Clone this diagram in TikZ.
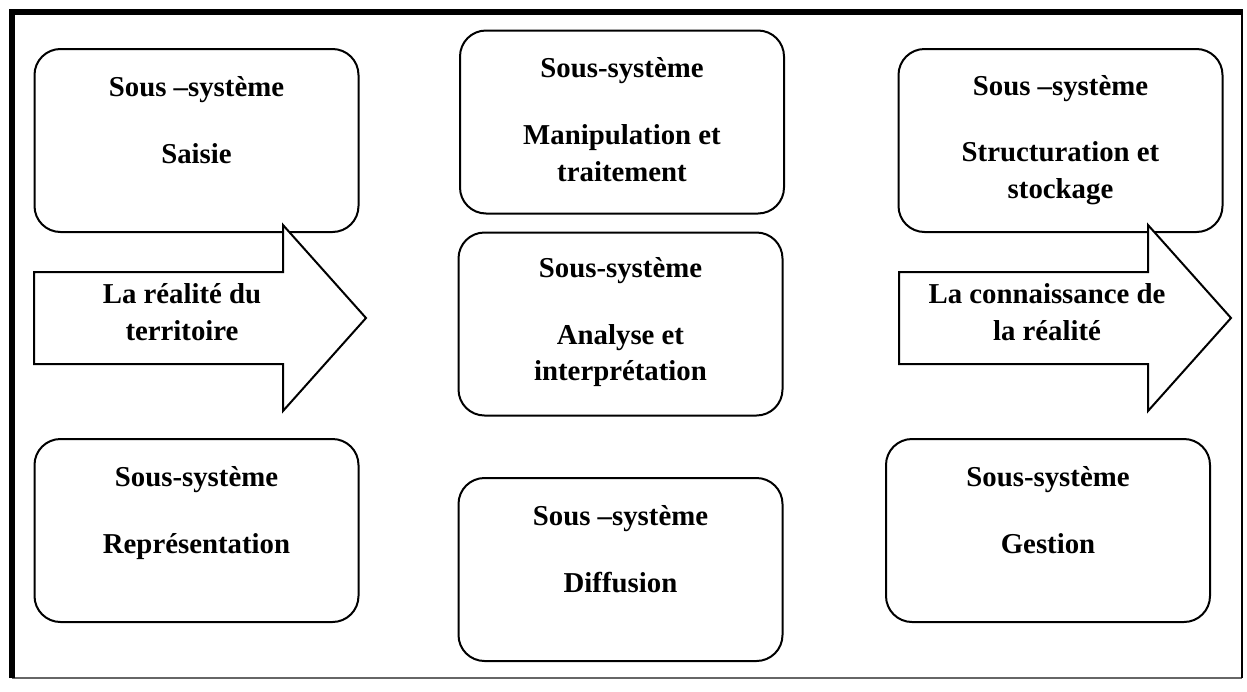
\documentclass[tikz,border=0pt]{standalone}
\usepackage{fontspec}
\setmainfont{Liberation Serif}
\usetikzlibrary{positioning}
\tikzset{
    sysbox/.style={draw=black, line width=1pt, rounded corners=13pt,
        minimum width=162pt, minimum height=91.5pt, inner sep=0pt},
    systxt/.style={align=center, anchor=north, inner sep=0pt,
        font=\fontsize{14.4}{18.3}\selectfont\bfseries},
    flow/.style={draw=black, fill=white, line width=1pt, line join=miter},
}

\begin{document}
\begin{tikzpicture}[x=0.5pt, y=0.5pt]
    \useasboundingbox (0,0) rectangle (1247,-691);
    % cadre
    \draw[line width=0.7pt, black!60] (12,-678) -- (1242,-678);
    \draw[line width=0.8pt] (1242,-12) -- (1242,-678);
    \draw[line width=3pt] (12,-678) -- (12,-12) -- (1243,-12);
    % sous-systemes
    \node[sysbox] (saisie) at (196.5,-140.5) {};
    \node[sysbox] (repres) at (196.5,-530.5) {};
    \node[sysbox] (manip) at (622,-122) {};
    \node[sysbox] (analyse) at (620.5,-324) {};
    \node[sysbox] (diffus) at (620.5,-569.5) {};
    \node[sysbox] (struct) at (1060.5,-140.5) {};
    \node[sysbox] (gestion) at (1048,-530.5) {};
    \node[systxt] (saisie-t) at ([yshift=-11.2pt]saisie.north) {\strut Sous –système\\[15pt]Saisie};
    \node[systxt] (repres-t) at ([yshift=-11.2pt]repres.north) {\strut Sous-système\\[15pt]Représentation};
    \node[systxt] (manip-t) at ([yshift=-11.2pt]manip.north) {\strut Sous-système\\[15pt]Manipulation et\\traitement};
    \node[systxt] (analyse-t) at ([yshift=-10pt]analyse.north) {\strut Sous-système\\[15pt]Analyse et\\interprétation};
    \node[systxt] (diffus-t) at ([yshift=-11.2pt]diffus.north) {\strut Sous –système\\[15pt]Diffusion};
    \node[systxt] (struct-t) at ([yshift=-10.5pt]struct.north) {\strut Sous –système\\[15pt]Structuration et\\stockage};
    \node[systxt] (gestion-t) at ([yshift=-11.2pt]gestion.north) {\strut Sous-système\\[15pt]Gestion};
    % fleches
    \draw[flow] (34,-272) -- (283,-272) -- (283,-225) -- (366,-318) -- (283,-411) -- (283,-364) -- (34,-364) -- cycle;
    \draw[flow] (899,-272) -- (1148,-272) -- (1148,-225) -- (1231,-318) -- (1148,-411) -- (1148,-364) -- (899,-364) -- cycle;
    \node[systxt] (reel) at (182,-277.4) {\strut La réalité du\\territoire};
    \node[systxt] (connais) at (1047,-277.4) {\strut La connaissance de\\la réalité};
\end{tikzpicture}
\end{document}
